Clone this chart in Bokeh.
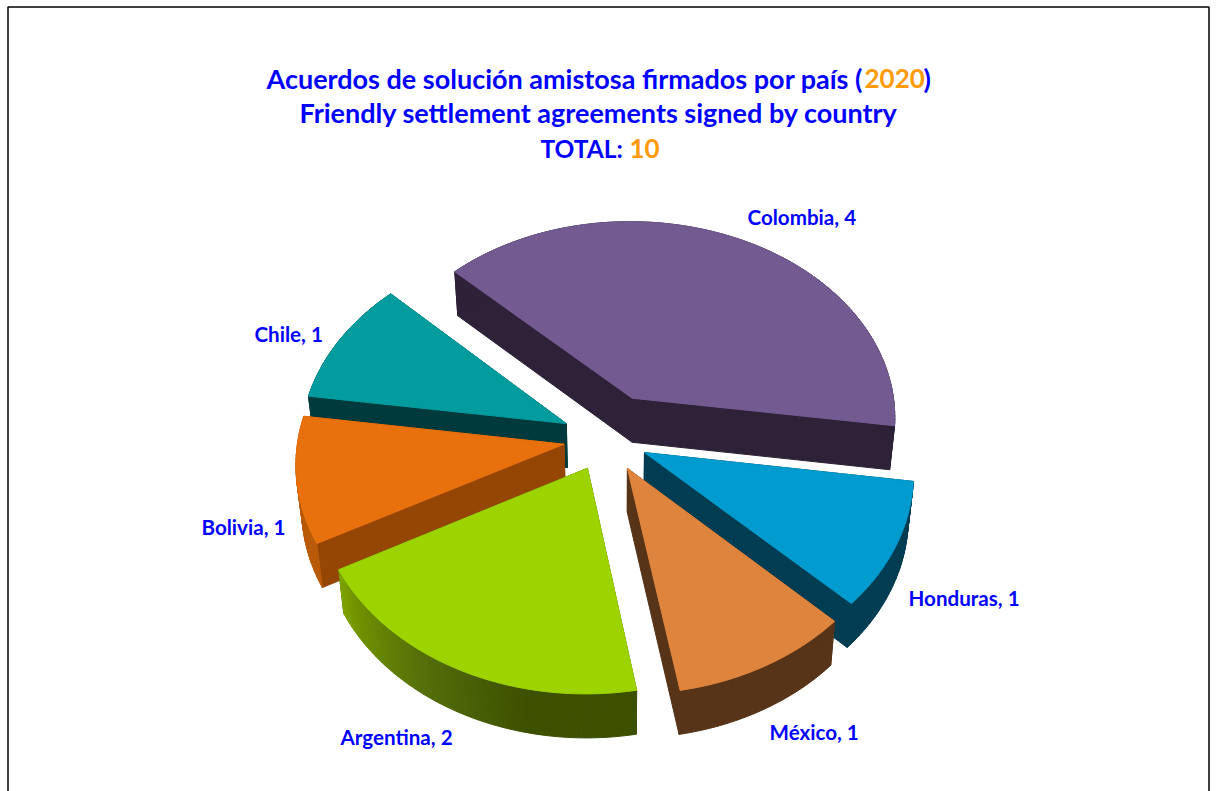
from math import sin, cos, radians
from bokeh.plotting import figure
from bokeh.models import Range1d, ColumnDataSource
from bokeh.core.properties import value
from bokeh.embed import file_html
from bokeh.resources import INLINE

categories = ["Argentina", "Bolivia", "Chile", "Colombia", "Honduras", "México"]
values = [2, 1, 1, 4, 1, 1]
title_year = "2020"
total = "10"

# styling / geometry of the tilted pie
START = 170.0
CX, CY, R, TILT, PERSP, DEPTH = 606.0, 438.0, 266.0, 0.76, 0.09, 44.0
explode = [43, 43, 45, 60, 42, 44]
top_col = ["#9dd300", "#e8700d", "#029b9e", "#735a91", "#019bcf", "#df843d"]
wall_col = ["#3d5000", "#964604", "#003a3c", "#2d2238", "#003d52", "#573418"]
arc_stops = [[(0, "#3d5000"), (0.30, "#3d5000"), (0.62, "#55700a"), (0.88, "#6f9000"), (1, "#7fa600")],
             [(0, "#b85a08"), (1, "#b85a08")], [(0, "#003a3c"), (1, "#003a3c")],
             [(0, "#2d2238"), (1, "#2d2238")], [(0, "#003d52"), (1, "#003d52")],
             [(0, "#573418"), (1, "#573418")]]
paint_order = [3, 2, 1, 4, 5, 0]
label_pos = [(340, 736), (201, 526), (254, 333), (747, 216), (908, 597), (769, 731)]
BLUE, ORANGE = "#0000ff", "#ff9a0a"
FONT = "Lato"


def proj(u, v):
    s = 1 + PERSP * v / R
    return CX + s * u, CY + s * TILT * v


def drop(p):
    return 620 + 0.982 * (p[0] - 620), p[1] + DEPTH


def mix(stops, t):
    for (a, ca), (b, cb) in zip(stops, stops[1:]):
        if t <= b:
            f = 0 if b == a else (t - a) / (b - a)
            return "#" + "".join("%02x" % round(int(ca[i:i + 2], 16) * (1 - f) + int(cb[i:i + 2], 16) * f)
                                 for i in (1, 3, 5))
    return stops[-1][1]


tot = sum(values)
spans, a = [], START
for val in values:
    spans.append((a, a + 360.0 * val / tot))
    a += 360.0 * val / tot

xs, ys, cols = [], [], []


def add(poly, c):
    xs.append([q[0] for q in poly])
    ys.append([q[1] for q in poly])
    cols.append(c)


for i in paint_order:
    a0, a1 = spans[i]
    mid = radians((a0 + a1) / 2)
    ox, oy = explode[i] * sin(mid), -explode[i] * cos(mid)
    apex = proj(ox, oy)
    n = int(round(a1 - a0))
    arc = []
    for k in range(n + 1):
        t = radians(a0 + (a1 - a0) * k / n)
        arc.append(proj(ox + R * sin(t), oy - R * cos(t)))
    add([apex, arc[0], drop(arc[0]), drop(apex)], wall_col[i])
    add([apex, arc[-1], drop(arc[-1]), drop(apex)], wall_col[i])
    for k in range(n):
        add([arc[k], arc[k + 1], drop(arc[k + 1]), drop(arc[k])], mix(arc_stops[i], k / n))
    add([apex] + arc, top_col[i])

p = figure(width=1216, height=791, output_backend="svg", toolbar_location=None,
           x_range=Range1d(0, 1216), y_range=Range1d(791, 0), min_border=0,
           x_axis_type=None, y_axis_type=None, outline_line_color=None,
           background_fill_color="white", border_fill_color="white")
p.grid.visible = False

p.line([7.5, 7.5, 1208.5, 1208.5], [800, 6.5, 6.5, 800], line_color="black", line_width=1.5)

src = ColumnDataSource(dict(xs=xs, ys=ys, c=cols))
p.patches("xs", "ys", source=src, fill_color="c", line_color="c", line_width=1.0)


def txt(x, y, s, color, size):
    p.text([x], [y], text=[s], text_color=color, text_font=value(FONT), text_font_style="bold",
           text_font_size=f"{size}px", text_align="left", text_baseline="middle")


TS = 27
txt(266, 78, "Acuerdos de solución amistosa firmados por país (", BLUE, TS)
txt(864, 78, title_year, ORANGE, 26)
txt(923, 78, ")", BLUE, TS)
txt(299, 112, "Friendly settlement agreements signed by country", BLUE, TS)
txt(540, 148, "TOTAL:", BLUE, 24.5)
txt(629, 148, total, ORANGE, 26)

for name, val, (x, y) in zip(categories, values, label_pos):
    txt(x, y, f"{name}, {val}", BLUE, 20.6)

open("out.html", "w").write(file_html(p, INLINE))
